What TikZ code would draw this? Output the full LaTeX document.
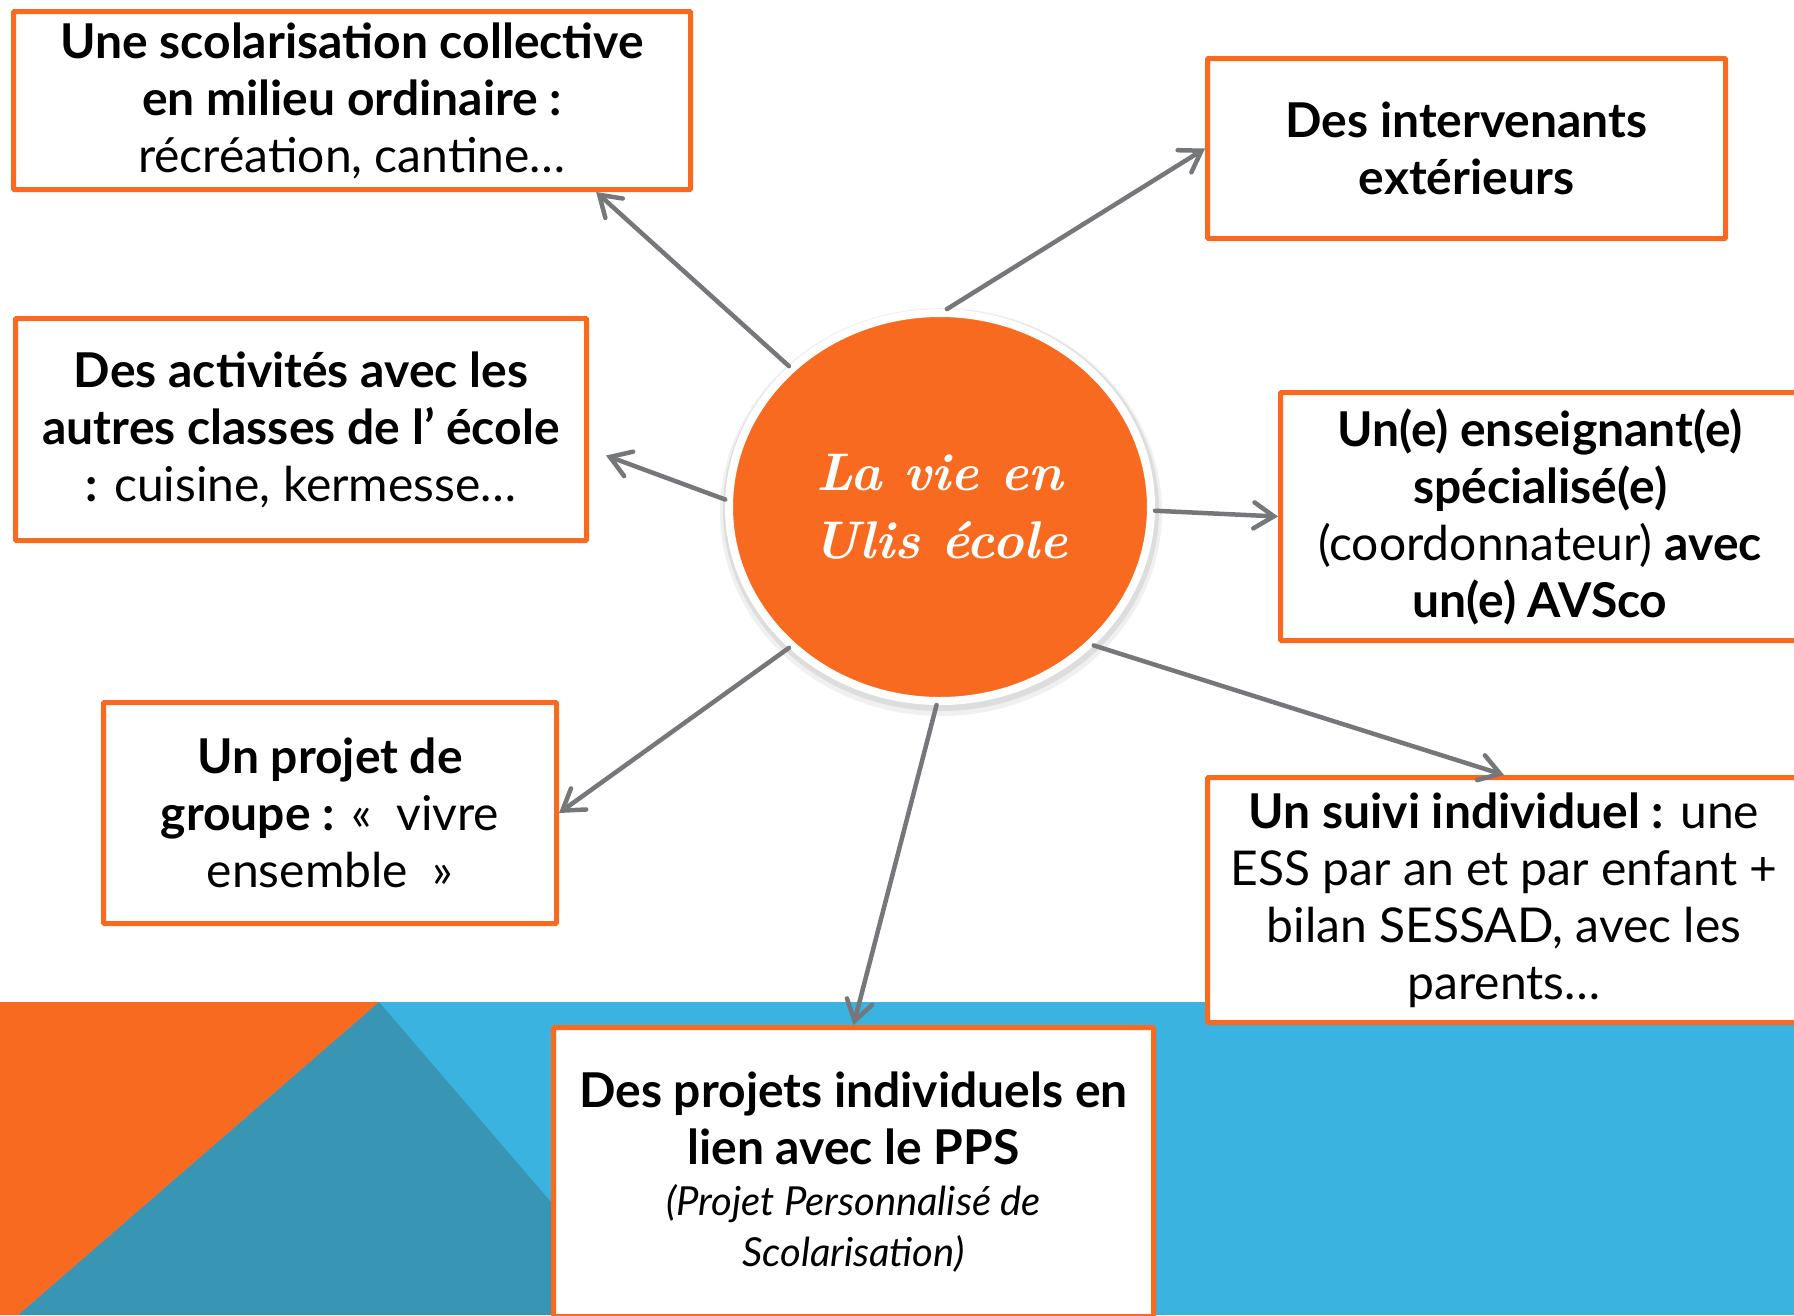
\documentclass[tikz,border=0pt]{standalone}
\usepackage{fontspec}
\newfontfamily\lato{Lato}
\usetikzlibrary{shapes.geometric,arrows.meta,calc}
\definecolor{ulisorange}{HTML}{F86A1F}
\definecolor{ulisblue}{HTML}{3AB3E0}
\definecolor{ulisteal}{HTML}{3995B4}
\definecolor{arrowgray}{HTML}{76777A}
\begin{document}
\begin{tikzpicture}[x=1pt,y=-1pt,
  box/.style={rectangle, draw=ulisorange, line width=5pt, fill=white, inner sep=0pt,
    rounded corners=1pt, align=center, font=\lato\fontsize{48}{57}\selectfont},
  conn/.style={draw=arrowgray, line width=4.5pt, line cap=round,
    -{Straight Barb[length=20pt,width=26pt,line cap=round]}},
  hub/.style={ellipse, fill=ulisorange, draw=white, line width=8pt, inner sep=0pt,
    align=center, text=white, font=\fontsize{53}{68}\selectfont\bfseries\itshape}
]
\useasboundingbox (0,0) rectangle (1794,1315);
\clip (0,0) rectangle (1794,1315);
\fill[white] (0,0) rectangle (1794,1315);
% background band
\fill[ulisblue] (0,1002) rectangle (1794,1315);
\fill[ulisteal] (379,1002) -- (648,1315) -- (18,1315) -- cycle;
\fill[ulisorange] (0,1002) -- (379,1002) -- (18,1315) -- (0,1315) -- cycle;

% boxes
\node[box, minimum width=677pt, minimum height=178pt] (b1) at (352,100.5)
  {\textbf{Une scolarisation collective}\\ \textbf{en milieu ordinaire :}\\ récréation, cantine…};
\node[box, minimum width=518pt, minimum height=180pt] (b2) at (1466.5,148.5)
  {\textbf{Des intervenants}\\ \textbf{extérieurs}};
\node[box, minimum width=571pt, minimum height=222pt] (b3) at (301,429.5)
  {\textbf{Des activités avec les}\\ \textbf{autres classes de l’ école}\\ \textbf{:} cuisine, kermesse…};
\node[box, minimum width=519pt, minimum height=248pt] (b4) at (1540,516.5)
  {\textbf{Un(e) enseignant(e)}\\ \textbf{spécialisé(e)}\\ (coordonnateur) \textbf{avec}\\ \textbf{un(e) AVSco}};
\node[box, minimum width=453pt, minimum height=221pt] (b5) at (330,813)
  {\textbf{Un projet de}\\ \textbf{groupe :} «~~vivre\\ ensemble~~»};
\node[box, minimum width=593pt, minimum height=245pt] (b6) at (1504,900)
  {\textbf{Un suivi individuel :} une\\ ESS par an et par enfant +\\ bilan SESSAD, avec les\\ parents…};
\node[box, minimum width=600pt, minimum height=289pt] (b7) at (853.5,1172)
  {\textbf{Des projets individuels en}\\ \textbf{lien avec le PPS}\\[-6pt]
   {\itshape\fontsize{40}{52}\selectfont (Projet Personnalisé de}\\[-6pt]
   {\itshape\fontsize{40}{52}\selectfont Scolarisation)}};

% hub with soft shadow
\fill[black, opacity=0.06] (941,512) ellipse [x radius=221, y radius=204];
\fill[black, opacity=0.08] (941,510) ellipse [x radius=218, y radius=201];
\node[hub, minimum width=422pt, minimum height=388pt] (c) at (940,507) {La vie en\\ Ulis école};

% connectors
\draw[conn] (c.137) -- ($(b1.south west)!0.858!(b1.south east)$);
\draw[conn] (c.88) -- (b2.west);
\draw[conn] (c.178) -- ($(b3.east)+(17,26)$);
\draw[conn] (c.-1) -- (b4.west);
\draw[conn] (c.223) -- (b5.east);
\draw[conn] (c.-42) -- (b6.north);
\draw[conn] (c.-91) -- (b7.north);
\end{tikzpicture}
\end{document}
